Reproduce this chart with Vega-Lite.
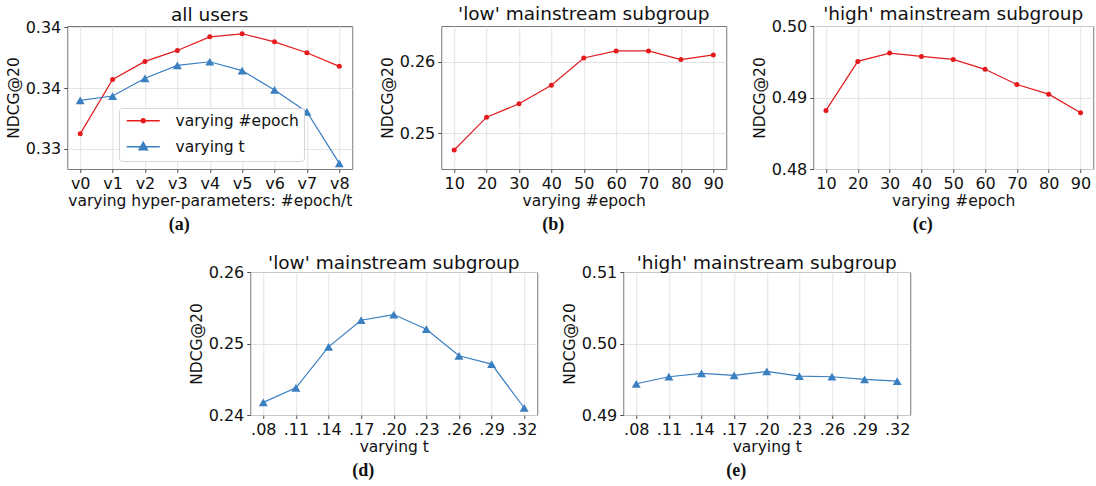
{
  "$schema": "https://vega.github.io/schema/vega-lite/v6.json",
  "background": "white",
  "padding": {"left": 5, "top": 4, "right": 2, "bottom": 2},
  "config": {
    "font": "DejaVu Sans",
    "view": {"stroke": "#7a7a7a", "strokeWidth": 1},
    "axis": {
      "labelFont": "DejaVu Sans", "labelFontSize": 16, "labelColor": "#111",
      "titleFont": "DejaVu Sans", "titleFontSize": 15.5, "titleFontWeight": "normal", "titleColor": "#111",
      "domain": false, "tickSize": 3.5, "tickColor": "#222", "tickWidth": 0.8,
      "labelPadding": 3, "titlePadding": 4, "gridColor": "#dcdcdc", "gridWidth": 0.8, "labelAngle": 0
    },
    "axisX": {"titlePadding": 2},
    "title": {"font": "DejaVu Sans", "fontSize": 18.5, "fontWeight": "normal", "color": "#111", "offset": -5, "baseline": "alphabetic"}
  },
  "datasets": {
    "a": [
      {"v": "v0", "series": "varying #epoch", "ndcg": 0.33623},
      {"v": "v1", "series": "varying #epoch", "ndcg": 0.34071},
      {"v": "v2", "series": "varying #epoch", "ndcg": 0.34219},
      {"v": "v3", "series": "varying #epoch", "ndcg": 0.34309},
      {"v": "v4", "series": "varying #epoch", "ndcg": 0.34421},
      {"v": "v5", "series": "varying #epoch", "ndcg": 0.34446},
      {"v": "v6", "series": "varying #epoch", "ndcg": 0.34380},
      {"v": "v7", "series": "varying #epoch", "ndcg": 0.34290},
      {"v": "v8", "series": "varying #epoch", "ndcg": 0.34178},
      {"v": "v0", "series": "varying t", "ndcg": 0.33899},
      {"v": "v1", "series": "varying t", "ndcg": 0.33934},
      {"v": "v2", "series": "varying t", "ndcg": 0.34080},
      {"v": "v3", "series": "varying t", "ndcg": 0.34186},
      {"v": "v4", "series": "varying t", "ndcg": 0.34216},
      {"v": "v5", "series": "varying t", "ndcg": 0.34143},
      {"v": "v6", "series": "varying t", "ndcg": 0.33984},
      {"v": "v7", "series": "varying t", "ndcg": 0.33803},
      {"v": "v8", "series": "varying t", "ndcg": 0.33380}
    ],
    "b": [
      {"epoch": 10, "ndcg": 0.24762}, {"epoch": 20, "ndcg": 0.25224}, {"epoch": 30, "ndcg": 0.25411},
      {"epoch": 40, "ndcg": 0.25673}, {"epoch": 50, "ndcg": 0.26056}, {"epoch": 60, "ndcg": 0.26154},
      {"epoch": 70, "ndcg": 0.26154}, {"epoch": 80, "ndcg": 0.26033}, {"epoch": 90, "ndcg": 0.26098}
    ],
    "c": [
      {"epoch": 10, "ndcg": 0.48819}, {"epoch": 20, "ndcg": 0.49505}, {"epoch": 30, "ndcg": 0.49621},
      {"epoch": 40, "ndcg": 0.49575}, {"epoch": 50, "ndcg": 0.49533}, {"epoch": 60, "ndcg": 0.49394},
      {"epoch": 70, "ndcg": 0.49181}, {"epoch": 80, "ndcg": 0.49047}, {"epoch": 90, "ndcg": 0.48787}
    ],
    "d": [
      {"t": ".08", "ndcg": 0.24177}, {"t": ".11", "ndcg": 0.24381}, {"t": ".14", "ndcg": 0.24953},
      {"t": ".17", "ndcg": 0.25326}, {"t": ".20", "ndcg": 0.25405}, {"t": ".23", "ndcg": 0.25200},
      {"t": ".26", "ndcg": 0.24828}, {"t": ".29", "ndcg": 0.24712}, {"t": ".32", "ndcg": 0.24098}
    ],
    "e": [
      {"t": ".08", "ndcg": 0.49437}, {"t": ".11", "ndcg": 0.49535}, {"t": ".14", "ndcg": 0.49581},
      {"t": ".17", "ndcg": 0.49553}, {"t": ".20", "ndcg": 0.49609}, {"t": ".23", "ndcg": 0.49544},
      {"t": ".26", "ndcg": 0.49535}, {"t": ".29", "ndcg": 0.49498}, {"t": ".32", "ndcg": 0.49474}
    ]
  },
  "spacing": 19,
  "center": true,
  "vconcat": [
    {
      "spacing": 26,
      "hconcat": [
        {
          "title": {"text": "(a)", "orient": "bottom", "font": "Liberation Serif", "fontWeight": "bold", "fontSize": 18, "anchor": "middle", "frame": "bounds", "offset": 6, "baseline": "top"},
          "vconcat": [
            {
              "width": 285, "height": 143,
              "title": {"text": "all users", "frame": "group"},
              "data": {"name": "a"},
              "encoding": {
                "x": {"field": "v", "type": "ordinal", "sort": null, "scale": {"type": "point", "padding": 0.4}, "axis": {"title": "varying hyper-parameters: #epoch/t", "grid": true}},
                "y": {"field": "ndcg", "type": "quantitative", "scale": {"domain": [0.33334, 0.3451], "zero": false, "nice": false}, "axis": {"title": "NDCG@20", "values": [0.335, 0.34, 0.345], "labelExpr": "datum.value < 0.337 ? '0.33' : '0.34'"}}
              },
              "layer": [
                {
                  "mark": {"type": "line", "strokeWidth": 1.2},
                  "encoding": {"color": {"field": "series", "type": "nominal", "scale": {"domain": ["varying #epoch", "varying t"], "range": ["#e41a1c", "#3a7fc0"]}}}
                },
                {
                  "transform": [{"filter": "datum.series === 'varying #epoch'"}],
                  "mark": {"type": "point", "filled": true, "opacity": 1, "shape": "circle", "size": 25, "color": "#e41a1c"}
                },
                {
                  "transform": [{"filter": "datum.series === 'varying t'"}],
                  "mark": {"type": "point", "filled": true, "opacity": 1, "shape": "triangle-up", "size": 80, "color": "#3a7fc0"}
                },
                {
                  "transform": [{"filter": "false"}],
                  "mark": {"type": "point", "filled": true, "opacity": 1, "size": 100, "strokeWidth": 1.3},
                  "encoding": {
                    "color": {"field": "series", "type": "nominal", "scale": {"domain": ["varying #epoch", "varying t"], "range": ["#e41a1c", "#3a7fc0"]},
                      "legend": {
                        "title": null, "orient": "none", "legendX": 52, "legendY": 82,
                        "fillColor": "white", "strokeColor": "#d6d6d6", "cornerRadius": 3, "padding": 5,
                        "labelFont": "DejaVu Sans", "labelFontSize": 15.5, "labelColor": "#111",
                        "symbolSize": 100, "symbolStrokeWidth": 1.3, "symbolOpacity": 1, "labelOffset": 36, "rowPadding": 9
                      }
                    },
                    "stroke": {"field": "series", "type": "nominal", "scale": {"domain": ["varying #epoch", "varying t"], "range": ["#e41a1c", "#3a7fc0"]}},
                    "shape": {"field": "series", "type": "nominal", "scale": {"domain": ["varying #epoch", "varying t"], "range": ["M-1,0H5.6M2.7,0A0.4,0.4,0,1,1,1.9,0A0.4,0.4,0,1,1,2.7,0Z", "M-1,0H5.6M2.3,-0.95L3.15,0.6L1.45,0.6Z"]}}
                  }
                }
              ]
            }
          ]
        },
        {
          "spacing": 24,
          "hconcat": [
            {
              "title": {"text": "(b)", "orient": "bottom", "font": "Liberation Serif", "fontWeight": "bold", "fontSize": 18, "anchor": "middle", "frame": "bounds", "offset": 6, "baseline": "top"},
              "vconcat": [
                {
                  "width": 285, "height": 143,
                  "title": {"text": "'low' mainstream subgroup", "frame": "group", "offset": 3},
                  "data": {"name": "b"},
                  "encoding": {
                    "x": {"field": "epoch", "type": "quantitative", "scale": {"domain": [6, 94], "nice": false, "zero": false}, "axis": {"title": "varying #epoch", "values": [10, 20, 30, 40, 50, 60, 70, 80, 90], "grid": true}},
                    "y": {"field": "ndcg", "type": "quantitative", "scale": {"domain": [0.24495, 0.26505], "zero": false, "nice": false}, "axis": {"title": "NDCG@20", "values": [0.25, 0.26], "format": ".2f"}}
                  },
                  "layer": [
                    {"mark": {"type": "line", "strokeWidth": 1.2, "color": "#e41a1c"}},
                    {"mark": {"type": "point", "filled": true, "opacity": 1, "shape": "circle", "size": 25, "color": "#e41a1c"}}
                  ]
                }
              ]
            },
            {
              "title": {"text": "(c)", "orient": "bottom", "font": "Liberation Serif", "fontWeight": "bold", "fontSize": 18, "anchor": "middle", "frame": "bounds", "offset": 6, "baseline": "top"},
              "vconcat": [
                {
                  "width": 280, "height": 143,
                  "title": {"text": "'high' mainstream subgroup", "frame": "group"},
                  "data": {"name": "c"},
                  "encoding": {
                    "x": {"field": "epoch", "type": "quantitative", "scale": {"domain": [6, 94], "nice": false, "zero": false}, "axis": {"title": "varying #epoch", "values": [10, 20, 30, 40, 50, 60, 70, 80, 90], "grid": true}},
                    "y": {"field": "ndcg", "type": "quantitative", "scale": {"domain": [0.48, 0.5], "zero": false, "nice": false}, "axis": {"title": "NDCG@20", "values": [0.48, 0.49, 0.5], "format": ".2f"}}
                  },
                  "layer": [
                    {"mark": {"type": "line", "strokeWidth": 1.2, "color": "#e41a1c"}},
                    {"mark": {"type": "point", "filled": true, "opacity": 1, "shape": "circle", "size": 25, "color": "#e41a1c"}}
                  ]
                }
              ]
            }
          ]
        }
      ]
    },
    {
      "spacing": 23,
      "hconcat": [
        {
          "title": {"text": "(d)", "orient": "bottom", "font": "Liberation Serif", "fontWeight": "bold", "fontSize": 18, "anchor": "middle", "frame": "bounds", "offset": 6, "baseline": "top"},
          "vconcat": [
            {
              "width": 287, "height": 143,
              "title": {"text": "'low' mainstream subgroup", "frame": "group", "offset": -8},
              "data": {"name": "d"},
              "encoding": {
                "x": {"field": "t", "type": "ordinal", "sort": null, "scale": {"type": "point", "padding": 0.4}, "axis": {"title": "varying t", "grid": true}},
                "y": {"field": "ndcg", "type": "quantitative", "scale": {"domain": [0.24, 0.26], "zero": false, "nice": false}, "axis": {"title": "NDCG@20", "values": [0.24, 0.25, 0.26], "format": ".2f"}}
              },
              "layer": [
                {"mark": {"type": "line", "strokeWidth": 1.2, "color": "#3a7fc0"}},
                {"mark": {"type": "point", "filled": true, "opacity": 1, "shape": "triangle-up", "size": 80, "color": "#3a7fc0"}}
              ]
            }
          ]
        },
        {
          "title": {"text": "(e)", "orient": "bottom", "font": "Liberation Serif", "fontWeight": "bold", "fontSize": 18, "anchor": "middle", "frame": "bounds", "offset": 6, "baseline": "top"},
          "vconcat": [
            {
              "width": 287, "height": 143,
              "title": {"text": "'high' mainstream subgroup", "frame": "group", "offset": -8},
              "data": {"name": "e"},
              "encoding": {
                "x": {"field": "t", "type": "ordinal", "sort": null, "scale": {"type": "point", "padding": 0.4}, "axis": {"title": "varying t", "grid": true}},
                "y": {"field": "ndcg", "type": "quantitative", "scale": {"domain": [0.49, 0.51], "zero": false, "nice": false}, "axis": {"title": "NDCG@20", "values": [0.49, 0.5, 0.51], "format": ".2f"}}
              },
              "layer": [
                {"mark": {"type": "line", "strokeWidth": 1.2, "color": "#3a7fc0"}},
                {"mark": {"type": "point", "filled": true, "opacity": 1, "shape": "triangle-up", "size": 80, "color": "#3a7fc0"}}
              ]
            }
          ]
        }
      ]
    }
  ]
}
